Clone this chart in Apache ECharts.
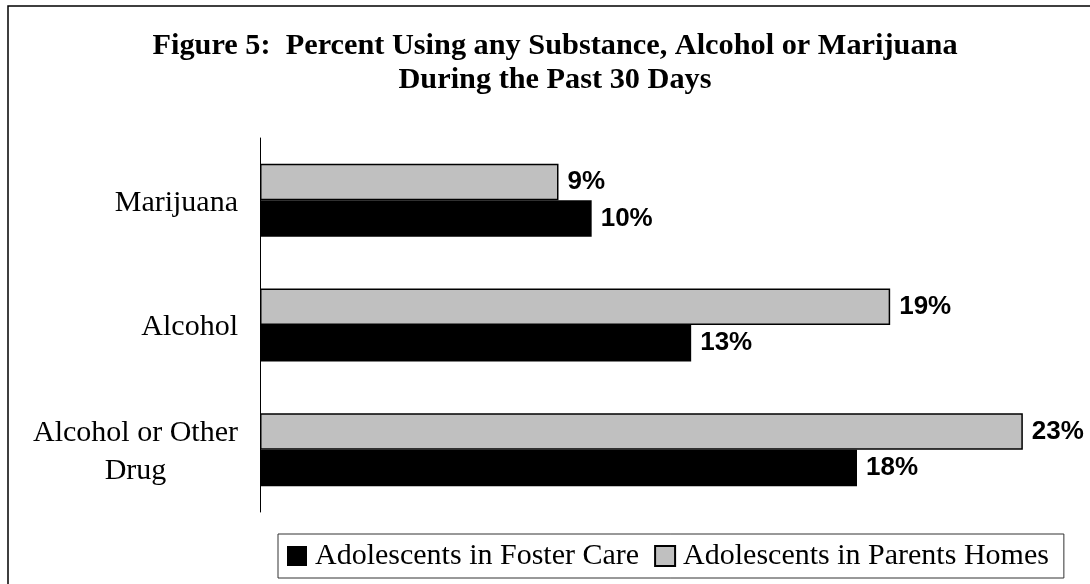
<!DOCTYPE html>
<html>
<head>
<meta charset="utf-8">
<script src="https://cdn.jsdelivr.net/npm/echarts@6/dist/echarts.min.js"></script>
<style>
  html, body { margin: 0; padding: 0; background: #fff; }
  #chart { width: 1090px; height: 584px; }
</style>
</head>
<body>
<div id="chart"></div>
<script>
// Substance use in the past 30 days, percent of adolescents
const categories = ['Marijuana', 'Alcohol', 'Alcohol or Other\nDrug'];
const fosterCare = [10, 13, 18];
const parentsHomes = [9, 19, 23];
const seriesNames = ['Adolescents in Foster Care', 'Adolescents in Parents Homes'];
const titleLines = [
  'Figure 5:  Percent Using any Substance, Alcohol or Marijuana',
  'During the Past 30 Days'
];

const serif = 'Liberation Serif';
const sans = 'Liberation Sans';

const valueLabel = {
  show: true,
  position: 'right',
  distance: 9,
  formatter: '{c}%',
  fontFamily: sans,
  fontWeight: 'bold',
  fontSize: 26,
  color: '#000'
};

const chart = echarts.init(document.getElementById('chart'), null, { renderer: 'canvas' });

chart.setOption({
  animation: false,
  backgroundColor: '#fff',
  graphic: [{
    type: 'rect',
    silent: true,
    shape: { x: 8, y: 6, width: 1100, height: 600 },
    style: { fill: 'none', stroke: '#000', lineWidth: 1.5 }
  }],
  title: {
    text: titleLines.join('\n'),
    left: 555,
    textAlign: 'center',
    top: 29,
    padding: 0,
    textStyle: {
      fontFamily: serif,
      fontWeight: 'bold',
      fontSize: 30.3,
      lineHeight: 34,
      color: '#000'
    }
  },
  legend: {
    data: seriesNames,
    left: 278,
    top: 534,
    orient: 'horizontal',
    icon: 'rect',
    itemWidth: 20,
    itemHeight: 20,
    itemGap: 15,
    padding: [7, 15, 7, 9],
    borderColor: '#333',
    borderWidth: 1,
    textStyle: {
      fontFamily: serif,
      fontSize: 30,
      color: '#000',
      padding: [0, 0, 0, 3]
    }
  },
  grid: {
    left: 260,
    top: 138,
    height: 374,
    width: 796,
    containLabel: false
  },
  xAxis: {
    type: 'value',
    min: 0,
    max: 24,
    show: false
  },
  yAxis: {
    type: 'category',
    data: categories,
    inverse: true,
    axisLine: { show: true, lineStyle: { color: '#000', width: 1 } },
    axisTick: { show: false },
    splitLine: { show: false },
    axisLabel: {
      margin: 22,
      align: 'right',
      padding: [5, 0, 0, 0],
      formatter: function (v) {
        return v.split('\n').map(function (line) { return '{c|' + line + '}'; }).join('\n');
      },
      rich: {
        c: {
          fontFamily: serif,
          fontSize: 30,
          lineHeight: 38,
          color: '#000',
          align: 'center'
        }
      }
    }
  },
  series: [
    {
      name: seriesNames[1],
      type: 'bar',
      data: parentsHomes,
      barWidth: 36.5,
      barGap: '0%',
      itemStyle: { color: '#C0C0C0', borderColor: '#000', borderWidth: 1.5 },
      label: valueLabel
    },
    {
      name: seriesNames[0],
      type: 'bar',
      data: fosterCare,
      barWidth: 36.5,
      barGap: '0%',
      itemStyle: { color: '#000' },
      label: valueLabel
    }
  ]
});
</script>
</body>
</html>
